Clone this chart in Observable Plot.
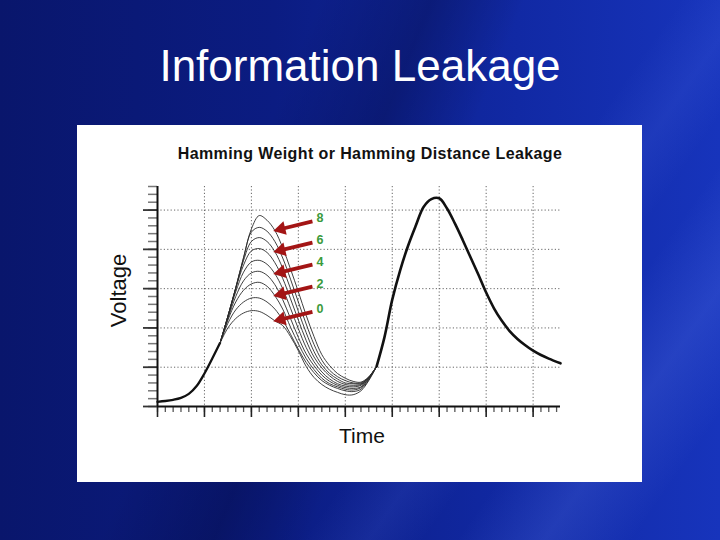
<!DOCTYPE html>
<html>
<head>
<meta charset="utf-8">
<script src="https://cdn.jsdelivr.net/npm/d3@7"></script>
<script src="https://cdn.jsdelivr.net/npm/@observablehq/plot@0.6"></script>
<style>
  html, body { margin: 0; padding: 0; }
  body {
    width: 720px; height: 540px; overflow: hidden; position: relative;
    font-family: "Liberation Sans", Arial, sans-serif;
    background:
      linear-gradient(125deg, rgba(0,0,0,0) 62%, rgba(110,140,255,0.10) 68%, rgba(0,0,0,0) 73%),
      linear-gradient(125deg, rgba(0,0,0,0) 76%, rgba(120,150,255,0.16) 84%, rgba(0,0,0,0) 92%),
      linear-gradient(112deg, rgba(0,0,0,0) 34%, rgba(0,0,30,0.25) 46%, rgba(0,0,0,0) 56%),
      linear-gradient(90deg, #09166c 0%, #0b1c82 38%, #1129a4 72%, #1734bc 100%);
  }
  #slideTitle {
    position: absolute; left: 0; top: 44px; width: 720px;
    text-align: center; color: #ffffff; font-size: 44px; line-height: 44px;
    font-family: "Liberation Sans", Arial, sans-serif;
  }
  #box {
    position: absolute; left: 77px; top: 125px; width: 565px; height: 357px;
    background: #ffffff;
  }
  #chartTitle {
    position: absolute; left: 293px; top: 21px; transform: translateX(-50%);
    white-space: nowrap; font-weight: bold; font-size: 16px; line-height: 16px;
    letter-spacing: 0.4px; color: #111;
  }
  #chart { position: absolute; left: 0; top: 45px; }
</style>
</head>
<body>
<div id="slideTitle">Information Leakage</div>
<div id="box">
  <div id="chartTitle">Hamming Weight or Hamming Distance Leakage</div>
  <div id="chart"></div>
</div>
<script>
// ---- data (time in minor-tick units, voltage in minor-tick units) ----
const riseTime  = [0, 1, 2, 3, 4, 5, 6, 7, 8];
const riseVolt  = [0.6, 0.7, 0.85, 1.1, 1.6, 2.6, 4.2, 6.1, 8.1];

const midTime = [8, 9, 10, 11, 12, 13, 14, 15, 16, 17, 18, 19, 20, 21, 22, 23, 24, 25, 26, 27, 28];
const hw0 = [8.1, 10.0, 11.2, 11.9, 12.2, 12.1, 11.6, 10.9, 10.3, 8.9, 7.1, 5.1, 3.7, 2.8, 2.2, 1.8, 1.5, 1.5, 2.0, 3.3, 5.1];
const hw1 = [8.1, 10.6, 12.3, 13.3, 13.8, 13.8, 13.3, 12.4, 11.0, 9.2, 7.3, 5.6, 4.3, 3.3, 2.7, 2.3, 2.0, 1.9, 2.2, 3.4, 5.1];
const hw2 = [8.1, 11.0, 13.3, 14.8, 15.6, 15.8, 15.3, 14.1, 12.4, 10.1, 8.0, 6.1, 4.7, 3.6, 2.9, 2.5, 2.2, 2.1, 2.4, 3.5, 5.1];
const hw3 = [8.1, 11.2, 14.0, 16.0, 17.0, 17.2, 16.7, 15.5, 13.6, 11.2, 8.8, 6.7, 5.2, 4.0, 3.2, 2.7, 2.4, 2.3, 2.5, 3.6, 5.1];
const hw4 = [8.1, 11.4, 14.6, 17.1, 18.4, 18.6, 18.1, 16.9, 15.0, 12.5, 9.9, 7.5, 5.7, 4.4, 3.5, 2.9, 2.6, 2.5, 2.7, 3.6, 5.1];
const hw5 = [8.1, 11.5, 15.0, 18.0, 19.8, 20.1, 19.6, 18.3, 16.3, 13.7, 11.0, 8.4, 6.3, 4.9, 3.9, 3.2, 2.8, 2.7, 2.8, 3.7, 5.1];
const hw6 = [8.1, 11.5, 15.1, 18.6, 21.0, 21.5, 21.0, 19.7, 17.6, 15.0, 12.1, 9.4, 7.0, 5.3, 4.2, 3.5, 3.0, 2.9, 2.9, 3.7, 5.1];
const hw7 = [8.1, 11.5, 15.1, 18.9, 22.2, 22.8, 22.3, 21.0, 18.9, 16.2, 13.3, 10.5, 7.9, 5.9, 4.6, 3.8, 3.3, 3.0, 3.0, 3.7, 5.1];
const hw8 = [8.1, 11.5, 15.1, 19.0, 22.6, 24.3, 23.7, 22.4, 20.2, 17.5, 14.6, 11.6, 8.9, 6.6, 5.2, 4.2, 3.6, 3.2, 3.1, 3.8, 5.1];

const humpTime = [28, 29, 30, 31, 32, 33, 34, 35, 36, 37, 38, 39, 40, 41, 42, 43, 44, 45, 46, 47, 48, 49, 50, 51.5];
const humpVolt = [5.1, 8.8, 13.6, 17.3, 20.4, 23.0, 25.4, 26.4, 26.5, 25.2, 23.3, 21.2, 19.0, 16.8, 14.5, 12.5, 10.9, 9.6, 8.6, 7.8, 7.1, 6.55, 6.1, 5.5];

const weights = [0, 1, 2, 3, 4, 5, 6, 7, 8];
const arrowWeights = [8, 6, 4, 2, 0];
const arrowTime = 15;        // time at which arrows point to the traces
const arrowHeadTime = 15.8;  // head centre
const arrowTailTime = 19.8;  // arrow tail / label position
const arrowRise = 1.15;      // tail is this much higher than the tip

const yMinorTicks = d3.range(0, 29, 1);
const yMajorTicks = [0, 5, 10, 15, 20, 25];
const xMinorTicks = d3.range(0, 52, 1);
const xMajorTicks = [0, 6, 12, 18, 24, 30, 36, 42, 48];

// ---- tables ----
const series = [hw0, hw1, hw2, hw3, hw4, hw5, hw6, hw7, hw8];
const riseRows = riseTime.map((t, i) => ({t, v: riseVolt[i]}));
const humpRows = humpTime.map((t, i) => ({t, v: humpVolt[i]}));
const midRows = [];
weights.forEach((w, k) => midTime.forEach((t, i) => midRows.push({w, t, v: series[k][i]})));
const arrowIdx = midTime.indexOf(arrowTime);
const arrowRows = arrowWeights.map(w => ({w, v: series[w][arrowIdx]}));
const headSlope = arrowRise * (arrowHeadTime - arrowTime) / (arrowTailTime - arrowTime);

const red = "#a31515";
const chart = Plot.plot({
  width: 565, height: 312,
  marginLeft: 80, marginRight: 82, marginTop: 16, marginBottom: 76,
  x: {domain: [0, 51.5]},
  y: {domain: [0, 28]},
  style: {fontFamily: "Liberation Sans, Arial, sans-serif", background: "white", overflow: "visible", color: "#111"},
  marks: [
    Plot.gridX({ticks: xMajorTicks.filter(t => t > 0), stroke: "#555", strokeOpacity: 0.9, strokeDasharray: "1.2,2.2"}),
    Plot.gridY({ticks: yMajorTicks.filter(v => v > 0), stroke: "#555", strokeOpacity: 0.9, strokeDasharray: "1.2,2.2"}),
    Plot.axisY({ticks: yMinorTicks, anchor: "left", tickSize: 9, stroke: "#777", strokeWidth: 1.5, fill: "none", label: null}),
    Plot.axisY({ticks: yMajorTicks, anchor: "left", tickSize: 14, stroke: "#333", strokeWidth: 1.8, fill: "none", label: null}),
    Plot.axisX({ticks: xMinorTicks, anchor: "bottom", tickSize: 6, stroke: "#555", strokeWidth: 1.3, fill: "none", label: null}),
    Plot.axisX({ticks: xMajorTicks, anchor: "bottom", tickSize: 11, stroke: "#222", strokeWidth: 1.6, fill: "none", label: null}),
    Plot.ruleX([0], {stroke: "#111", strokeWidth: 2}),
    Plot.ruleY([0], {stroke: "#111", strokeWidth: 2}),
    Plot.line(riseRows, {x: "t", y: "v", stroke: "#111", strokeWidth: 2.3, curve: "catmull-rom"}),
    Plot.line(midRows, {x: "t", y: "v", z: "w", stroke: "#2a2a2a", strokeWidth: 0.9, curve: "catmull-rom"}),
    Plot.line(humpRows, {x: "t", y: "v", stroke: "#111", strokeWidth: 2.6, curve: "catmull-rom"}),
    Plot.link(arrowRows, {
      x1: () => arrowTailTime, y1: d => d.v + arrowRise,
      x2: () => arrowHeadTime, y2: d => d.v + headSlope,
      stroke: red, strokeWidth: 3.8
    }),
    Plot.dot(arrowRows, {
      x: () => arrowHeadTime, y: d => d.v + headSlope,
      symbol: "triangle", r: 5.2, rotate: -103.5, fill: red, stroke: "none"
    }),
    Plot.text(arrowRows, {
      x: () => arrowTailTime, y: d => d.v + arrowRise, text: d => String(d.w),
      textAnchor: "start", dx: 4, dy: -3, fill: "#3b9a3b", fontWeight: "bold", fontSize: 12.5
    }),
    Plot.text(["Time"], {text: d => d, frameAnchor: "bottom", textAnchor: "middle", lineAnchor: "bottom", dy: 36, dx: 3, fontSize: 21, fill: "#111"}),
    Plot.text(["Voltage"], {text: d => d, frameAnchor: "left", textAnchor: "middle", rotate: -90, lineAnchor: "bottom", dx: -32, dy: -6, fontSize: 22, fill: "#111"})
  ]
});
document.getElementById("chart").appendChild(chart);
</script>
</body>
</html>
